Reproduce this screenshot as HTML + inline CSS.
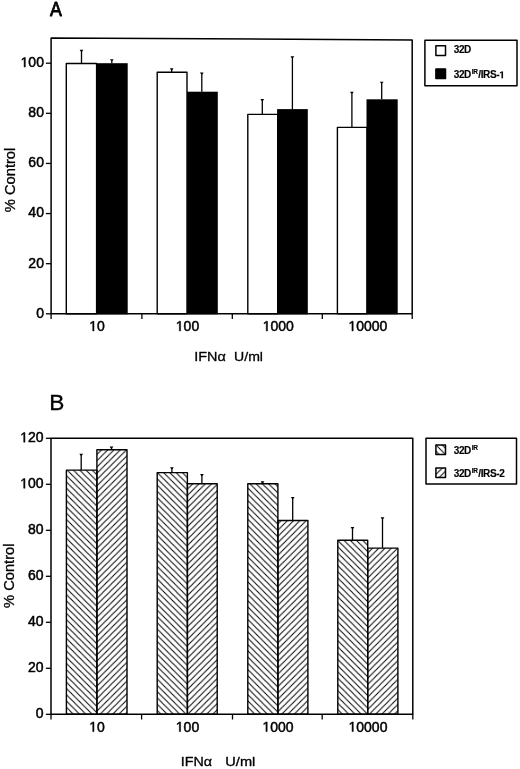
<!DOCTYPE html>
<html><head><meta charset="utf-8"><title>Figure</title>
<style>html,body{margin:0;padding:0;background:#fff;}svg{display:block;filter:blur(0.35px);}</style>
</head><body>
<svg width="520" height="769" viewBox="0 0 520 769">
<defs>
<pattern id="hb" patternUnits="userSpaceOnUse" width="6.26" height="6.26" patternTransform="translate(-2.3 0)"><path d="M-1,-1 L7.26,7.26 M-7.26,-1 L1,7.26 M5.26,-1 L13.52,7.26" stroke="#000" stroke-width="1.0"/></pattern>
<pattern id="hf" patternUnits="userSpaceOnUse" width="6.26" height="6.26" patternTransform="translate(0.5 0)"><path d="M-1,1 L1,-1 M-1,7.26 L7.26,-1 M5.26,7.26 L7.26,5.26" stroke="#000" stroke-width="1.0"/></pattern>
<pattern id="hb2" patternUnits="userSpaceOnUse" width="6.26" height="6.26" patternTransform="translate(-2.74 0)"><path d="M-1,-1 L7.26,7.26 M-7.26,-1 L1,7.26 M5.26,-1 L13.52,7.26" stroke="#000" stroke-width="1.0"/></pattern>
<pattern id="hf2" patternUnits="userSpaceOnUse" width="6.26" height="6.26" patternTransform="translate(2.67 0)"><path d="M-1,1 L1,-1 M-1,7.26 L7.26,-1 M5.26,7.26 L7.26,5.26" stroke="#000" stroke-width="1.0"/></pattern>
</defs>
<rect width="520" height="769" fill="#fff"/>
<g font-family="'Liberation Sans', sans-serif" fill="#000" stroke="#000" stroke-width="0.5" stroke-linejoin="round">
<rect x="66.30" y="63.50" width="30.30" height="250.30" fill="#fff" stroke="#000" stroke-width="1.4"/>
<rect x="96.30" y="63.20" width="31.40" height="251.10" fill="#000" stroke="none"/>
<rect x="157.20" y="72.30" width="29.80" height="241.50" fill="#fff" stroke="#000" stroke-width="1.4"/>
<rect x="187.10" y="91.70" width="30.70" height="222.60" fill="#000" stroke="none"/>
<rect x="247.80" y="114.40" width="29.90" height="199.40" fill="#fff" stroke="#000" stroke-width="1.4"/>
<rect x="277.10" y="109.10" width="30.70" height="205.20" fill="#000" stroke="none"/>
<rect x="337.40" y="127.40" width="29.60" height="186.40" fill="#fff" stroke="#000" stroke-width="1.4"/>
<rect x="366.50" y="99.30" width="31.20" height="215.00" fill="#000" stroke="none"/>
<line x1="81.5" y1="50.6" x2="81.5" y2="63.5" stroke="#000" stroke-width="1.3"/>
<polygon points="79.65,49.85 83.35,49.85 82.25,51.55 80.75,51.55" fill="#000" stroke="none"/>
<line x1="111.8" y1="59.9" x2="111.8" y2="63.2" stroke="#000" stroke-width="1.3"/>
<polygon points="109.95,59.15 113.65,59.15 112.55,60.85 111.05,60.85" fill="#000" stroke="none"/>
<line x1="171.7" y1="69.0" x2="171.7" y2="72.3" stroke="#000" stroke-width="1.3"/>
<polygon points="169.85,68.25 173.55,68.25 172.45,69.95 170.95,69.95" fill="#000" stroke="none"/>
<line x1="201.8" y1="73.3" x2="201.8" y2="91.7" stroke="#000" stroke-width="1.3"/>
<polygon points="199.95,72.55 203.65,72.55 202.55,74.25 201.05,74.25" fill="#000" stroke="none"/>
<line x1="262.3" y1="99.7" x2="262.3" y2="114.4" stroke="#000" stroke-width="1.3"/>
<polygon points="260.45,98.95 264.15,98.95 263.05,100.65 261.55,100.65" fill="#000" stroke="none"/>
<line x1="292.4" y1="57.0" x2="292.4" y2="109.1" stroke="#000" stroke-width="1.3"/>
<polygon points="290.55,56.25 294.25,56.25 293.15,57.95 291.65,57.95" fill="#000" stroke="none"/>
<line x1="351.9" y1="92.6" x2="351.9" y2="127.4" stroke="#000" stroke-width="1.3"/>
<polygon points="350.05,91.85 353.75,91.85 352.65,93.55 351.15,93.55" fill="#000" stroke="none"/>
<line x1="381.7" y1="82.4" x2="381.7" y2="99.3" stroke="#000" stroke-width="1.3"/>
<polygon points="379.85,81.65 383.55,81.65 382.45,83.35 380.95,83.35" fill="#000" stroke="none"/>
<polygon points="51.1,37.9 412.2,39.9 412.2,313.8 51.1,313.8" fill="none" stroke="#000" stroke-width="1.5"/>
<line x1="51.1" y1="313.8" x2="51.1" y2="319.0" stroke="#000" stroke-width="1.3"/>
<line x1="141.9" y1="313.8" x2="141.9" y2="319.0" stroke="#000" stroke-width="1.3"/>
<line x1="232.3" y1="313.8" x2="232.3" y2="319.0" stroke="#000" stroke-width="1.3"/>
<line x1="322.3" y1="313.8" x2="322.3" y2="319.0" stroke="#000" stroke-width="1.3"/>
<line x1="412.2" y1="313.8" x2="412.2" y2="319.0" stroke="#000" stroke-width="1.3"/>
<line x1="45.9" y1="63.200000000000045" x2="51.1" y2="63.200000000000045" stroke="#000" stroke-width="1.3"/>
<line x1="45.9" y1="113.32000000000002" x2="51.1" y2="113.32000000000002" stroke="#000" stroke-width="1.3"/>
<line x1="45.9" y1="163.44000000000003" x2="51.1" y2="163.44000000000003" stroke="#000" stroke-width="1.3"/>
<line x1="45.9" y1="213.56" x2="51.1" y2="213.56" stroke="#000" stroke-width="1.3"/>
<line x1="45.9" y1="263.68" x2="51.1" y2="263.68" stroke="#000" stroke-width="1.3"/>
<line x1="45.9" y1="313.8" x2="51.1" y2="313.8" stroke="#000" stroke-width="1.3"/>
<text transform="translate(50.02 15.65) scale(0.907 1)" font-size="19.62" font-weight="normal" stroke-width="0.75">A</text>
<text x="20.59" y="67.10" font-size="14"> 00</text>
<path transform="translate(20.59 67.10) scale(0.00684 -0.00684)" d="M515,0 L515,1237 L197,1010 L197,1180 L530,1409 L696,1409 L696,0 Z" stroke-width="73.1"/>
<text x="28.37" y="117.22" font-size="14">80</text>
<text x="28.37" y="167.34" font-size="14">60</text>
<text x="28.37" y="217.46" font-size="14">40</text>
<text x="28.37" y="267.58" font-size="14">20</text>
<text x="36.16" y="317.70" font-size="14">0</text>
<text transform="translate(14.71 212.17) rotate(-90) scale(1.019 1)" font-size="14.43" stroke-width="0.3">% Control</text>
<text x="89.21" y="330.90" font-size="14"> 0</text>
<path transform="translate(89.21 330.90) scale(0.00684 -0.00684)" d="M515,0 L515,1237 L197,1010 L197,1180 L530,1409 L696,1409 L696,0 Z" stroke-width="73.1"/>
<text x="175.82" y="330.90" font-size="14"> 00</text>
<path transform="translate(175.82 330.90) scale(0.00684 -0.00684)" d="M515,0 L515,1237 L197,1010 L197,1180 L530,1409 L696,1409 L696,0 Z" stroke-width="73.1"/>
<text x="262.73" y="330.90" font-size="14"> 000</text>
<path transform="translate(262.73 330.90) scale(0.00684 -0.00684)" d="M515,0 L515,1237 L197,1010 L197,1180 L530,1409 L696,1409 L696,0 Z" stroke-width="73.1"/>
<text x="348.43" y="330.90" font-size="14"> 0000</text>
<path transform="translate(348.43 330.90) scale(0.00684 -0.00684)" d="M515,0 L515,1237 L197,1010 L197,1180 L530,1409 L696,1409 L696,0 Z" stroke-width="73.1"/>
<text transform="translate(194.32 360.97) scale(1.075 1)" font-size="13.40" font-weight="normal" stroke-width="0.3">IFNα</text>
<text transform="translate(234.06 360.82) scale(1.066 1)" font-size="13.21" font-weight="normal" stroke-width="0.3">U/ml</text>
<rect x="424.9" y="40.2" width="92.10000000000002" height="45.599999999999994" fill="none" stroke="#000" stroke-width="1.5"/>
<rect x="435.9" y="45.8" width="9.6" height="9.6" fill="#fff" stroke="#000" stroke-width="1.5"/>
<rect x="435.9" y="68.9" width="9.6" height="9.6" fill="#000" stroke="#000" stroke-width="1.5"/>
<text x="453.7" y="52.7" font-size="10" font-weight="bold" letter-spacing="-0.35" stroke-width="0.15">32D</text>
<text x="453.7" y="78.3" font-size="10" font-weight="bold" letter-spacing="-0.35" stroke-width="0.15">32D<tspan dx="0.8" dy="-4" font-size="6.5">IR</tspan><tspan dx="0.6" dy="4">/</tspan>IRS- </text>
<path transform="translate(499.24 78.30) scale(0.00488 -0.00488)" d="M478,0 L478,1170 L140,959 L140,1180 L493,1409 L759,1409 L759,0 Z" stroke-width="30.7"/>
<rect x="66.40" y="470.10" width="30.50" height="244.20" fill="url(#hb)" stroke="#000" stroke-width="1.4"/>
<rect x="96.90" y="449.80" width="30.10" height="264.50" fill="url(#hf)" stroke="#000" stroke-width="1.4"/>
<rect x="157.20" y="472.60" width="30.20" height="241.70" fill="url(#hb)" stroke="#000" stroke-width="1.4"/>
<rect x="187.40" y="483.70" width="29.80" height="230.60" fill="url(#hf)" stroke="#000" stroke-width="1.4"/>
<rect x="247.80" y="483.80" width="30.10" height="230.50" fill="url(#hb)" stroke="#000" stroke-width="1.4"/>
<rect x="277.90" y="520.50" width="30.00" height="193.80" fill="url(#hf)" stroke="#000" stroke-width="1.4"/>
<rect x="337.80" y="540.20" width="29.90" height="174.10" fill="url(#hb)" stroke="#000" stroke-width="1.4"/>
<rect x="367.70" y="548.10" width="30.20" height="166.20" fill="url(#hf)" stroke="#000" stroke-width="1.4"/>
<line x1="81.2" y1="454.5" x2="81.2" y2="470.1" stroke="#000" stroke-width="1.3"/>
<polygon points="79.35,453.75 83.05,453.75 81.95,455.45 80.45,455.45" fill="#000" stroke="none"/>
<line x1="111.5" y1="447.2" x2="111.5" y2="449.8" stroke="#000" stroke-width="1.3"/>
<polygon points="109.65,446.45 113.35,446.45 112.25,448.15 110.75,448.15" fill="#000" stroke="none"/>
<line x1="171.9" y1="468.0" x2="171.9" y2="472.6" stroke="#000" stroke-width="1.3"/>
<polygon points="170.05,467.25 173.75,467.25 172.65,468.95 171.15,468.95" fill="#000" stroke="none"/>
<line x1="201.9" y1="474.8" x2="201.9" y2="483.7" stroke="#000" stroke-width="1.3"/>
<polygon points="200.05,474.05 203.75,474.05 202.65,475.75 201.15,475.75" fill="#000" stroke="none"/>
<line x1="262.5" y1="482.0" x2="262.5" y2="483.8" stroke="#000" stroke-width="1.3"/>
<polygon points="260.65,481.25 264.35,481.25 263.25,482.95 261.75,482.95" fill="#000" stroke="none"/>
<line x1="292.7" y1="497.8" x2="292.7" y2="520.5" stroke="#000" stroke-width="1.3"/>
<polygon points="290.85,497.05 294.55,497.05 293.45,498.75 291.95,498.75" fill="#000" stroke="none"/>
<line x1="352.5" y1="527.8" x2="352.5" y2="540.2" stroke="#000" stroke-width="1.3"/>
<polygon points="350.65,527.05 354.35,527.05 353.25,528.75 351.75,528.75" fill="#000" stroke="none"/>
<line x1="382.5" y1="518.1" x2="382.5" y2="548.1" stroke="#000" stroke-width="1.3"/>
<polygon points="380.65,517.35 384.35,517.35 383.25,519.05 381.75,519.05" fill="#000" stroke="none"/>
<polygon points="51.0,438.3 412.8,438.3 412.8,714.3 51.0,714.3" fill="none" stroke="#000" stroke-width="1.5"/>
<line x1="51.0" y1="714.3" x2="51.0" y2="719.5" stroke="#000" stroke-width="1.3"/>
<line x1="141.6" y1="714.3" x2="141.6" y2="719.5" stroke="#000" stroke-width="1.3"/>
<line x1="232.5" y1="714.3" x2="232.5" y2="719.5" stroke="#000" stroke-width="1.3"/>
<line x1="322.2" y1="714.3" x2="322.2" y2="719.5" stroke="#000" stroke-width="1.3"/>
<line x1="412.8" y1="714.3" x2="412.8" y2="719.5" stroke="#000" stroke-width="1.3"/>
<line x1="45.9" y1="438.29999999999995" x2="51.0" y2="438.29999999999995" stroke="#000" stroke-width="1.3"/>
<line x1="45.9" y1="484.29999999999995" x2="51.0" y2="484.29999999999995" stroke="#000" stroke-width="1.3"/>
<line x1="45.9" y1="530.3" x2="51.0" y2="530.3" stroke="#000" stroke-width="1.3"/>
<line x1="45.9" y1="576.3" x2="51.0" y2="576.3" stroke="#000" stroke-width="1.3"/>
<line x1="45.9" y1="622.3" x2="51.0" y2="622.3" stroke="#000" stroke-width="1.3"/>
<line x1="45.9" y1="668.3" x2="51.0" y2="668.3" stroke="#000" stroke-width="1.3"/>
<line x1="45.9" y1="714.3" x2="51.0" y2="714.3" stroke="#000" stroke-width="1.3"/>
<text x="49.20" y="409.65" font-size="22.67" font-weight="normal" stroke-width="0.3">B</text>
<text x="20.19" y="442.20" font-size="14"> 20</text>
<path transform="translate(20.19 442.20) scale(0.00684 -0.00684)" d="M515,0 L515,1237 L197,1010 L197,1180 L530,1409 L696,1409 L696,0 Z" stroke-width="73.1"/>
<text x="20.19" y="488.20" font-size="14"> 00</text>
<path transform="translate(20.19 488.20) scale(0.00684 -0.00684)" d="M515,0 L515,1237 L197,1010 L197,1180 L530,1409 L696,1409 L696,0 Z" stroke-width="73.1"/>
<text x="27.97" y="534.20" font-size="14">80</text>
<text x="27.97" y="580.20" font-size="14">60</text>
<text x="27.97" y="626.20" font-size="14">40</text>
<text x="27.97" y="672.20" font-size="14">20</text>
<text x="35.76" y="718.20" font-size="14">0</text>
<text transform="translate(14.41 607.97) rotate(-90) scale(1.008 1)" font-size="14.57" stroke-width="0.3">% Control</text>
<text x="89.21" y="731.60" font-size="14"> 0</text>
<path transform="translate(89.21 731.60) scale(0.00684 -0.00684)" d="M515,0 L515,1237 L197,1010 L197,1180 L530,1409 L696,1409 L696,0 Z" stroke-width="73.1"/>
<text x="175.82" y="731.60" font-size="14"> 00</text>
<path transform="translate(175.82 731.60) scale(0.00684 -0.00684)" d="M515,0 L515,1237 L197,1010 L197,1180 L530,1409 L696,1409 L696,0 Z" stroke-width="73.1"/>
<text x="262.43" y="731.60" font-size="14"> 000</text>
<path transform="translate(262.43 731.60) scale(0.00684 -0.00684)" d="M515,0 L515,1237 L197,1010 L197,1180 L530,1409 L696,1409 L696,0 Z" stroke-width="73.1"/>
<text x="348.53" y="731.60" font-size="14"> 0000</text>
<path transform="translate(348.53 731.60) scale(0.00684 -0.00684)" d="M515,0 L515,1237 L197,1010 L197,1180 L530,1409 L696,1409 L696,0 Z" stroke-width="73.1"/>
<text transform="translate(180.83 765.78) scale(1.138 1)" font-size="12.54" font-weight="normal" stroke-width="0.3">IFNα</text>
<text transform="translate(225.32 765.63) scale(1.178 1)" font-size="12.39" font-weight="normal" stroke-width="0.3">U/ml</text>
<rect x="426.0" y="438.3" width="90.5" height="45.69999999999999" fill="none" stroke="#000" stroke-width="1.5"/>
<rect x="435.9" y="444.9" width="9.6" height="9.6" fill="url(#hb2)" stroke="#000" stroke-width="1.5"/>
<rect x="435.9" y="468.0" width="9.6" height="9.6" fill="url(#hf2)" stroke="#000" stroke-width="1.5"/>
<text x="453.7" y="453.8" font-size="10" font-weight="bold" letter-spacing="-0.35" stroke-width="0.15">32D<tspan dx="0.8" dy="-4" font-size="6.5">IR</tspan></text>
<text x="453.7" y="476.6" font-size="10" font-weight="bold" letter-spacing="-0.35" stroke-width="0.15">32D<tspan dx="0.8" dy="-4" font-size="6.5">IR</tspan><tspan dx="0.6" dy="4">/</tspan>IRS-2</text>
</g></svg>
</body></html>
